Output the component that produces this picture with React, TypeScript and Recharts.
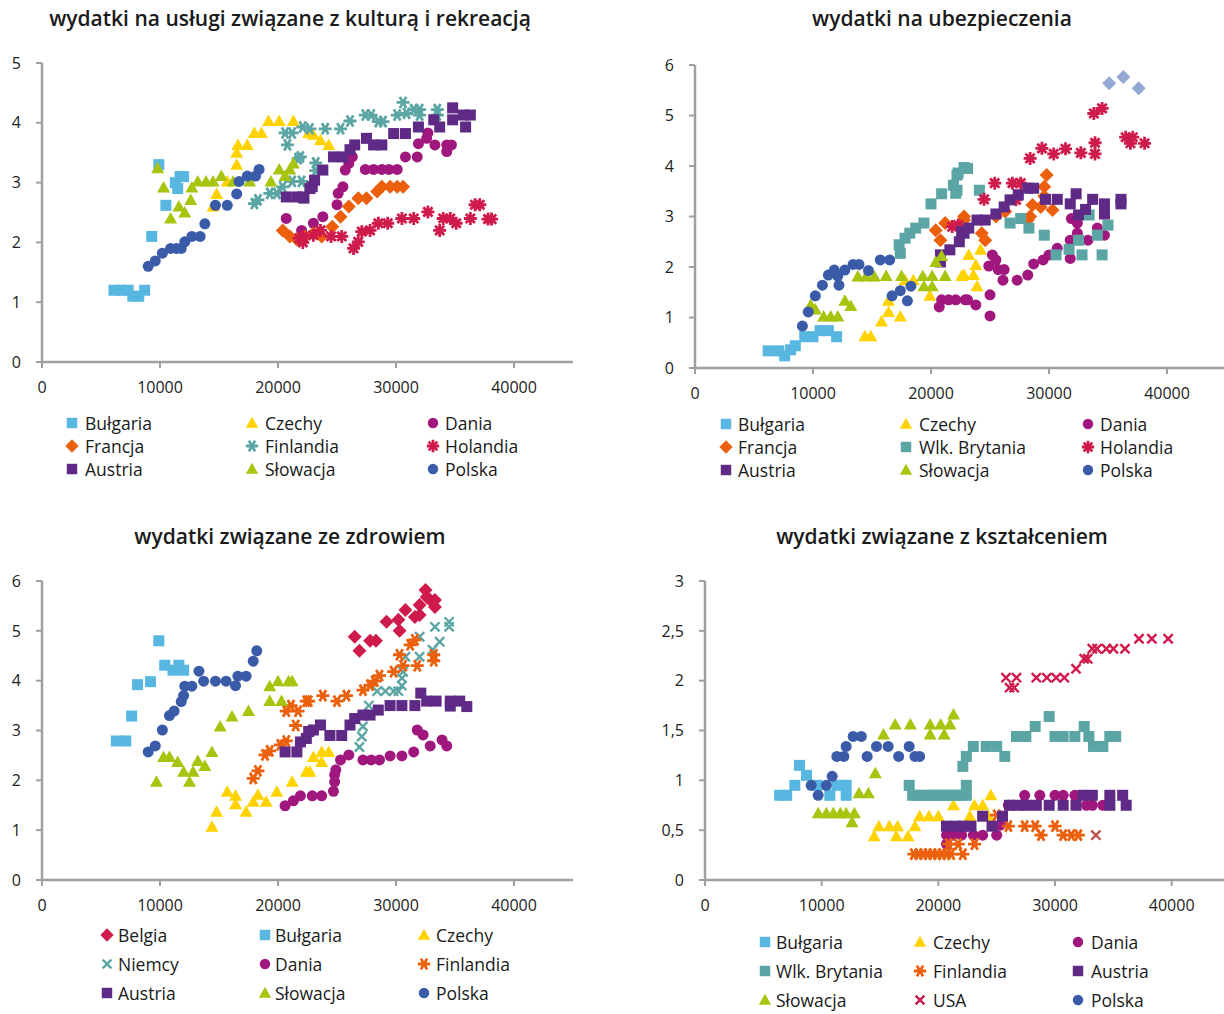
import { ScatterChart, Scatter, XAxis, YAxis } from 'recharts'

type Pt = [number, number]

// --- wydatki na usługi związane z kulturą i rekreacją ---
const kulBulgaria: Pt[] = [[6100, 1.2], [6700, 1.2], [7300, 1.2], [7700, 1.1], [8200, 1.1], [8700, 1.2], [9300, 2.1], [9900, 3.3], [10500, 2.62], [11300, 3.0], [11500, 2.9], [11700, 3.1], [12000, 3.1]]
const kulCzechy: Pt[] = [[14500, 2.6], [14800, 2.81], [15700, 3.02], [16500, 3.3], [16500, 3.5], [16600, 3.63], [17400, 3.63], [18000, 3.83], [18600, 3.83], [19200, 4.03], [20100, 4.03], [21300, 4.03], [22600, 3.83], [23000, 3.8], [23600, 3.71], [24300, 3.63]]
const kulDania: Pt[] = [[20700, 2.4], [22000, 2.2], [23000, 2.32], [23800, 2.43], [25000, 2.63], [25100, 2.82], [25500, 2.93], [25700, 3.21], [26000, 3.32], [26300, 3.43], [27400, 3.22], [28100, 3.22], [28800, 3.22], [29400, 3.22], [30100, 3.22], [30800, 3.43], [31800, 3.43], [31900, 3.65], [32600, 3.74], [32700, 3.83], [33300, 3.63], [34300, 3.63], [34300, 3.52], [34700, 3.63]]
const kulFrancja: Pt[] = [[20400, 2.2], [21000, 2.1], [21600, 2.05], [22300, 2.1], [23000, 2.15], [23700, 2.1], [24600, 2.26], [25300, 2.43], [26000, 2.6], [26800, 2.74], [27500, 2.74], [28400, 2.85], [28800, 2.93], [29500, 2.93], [30100, 2.93], [30600, 2.93]]
const kulFinlandia: Pt[] = [[18000, 2.65], [18300, 2.71], [19300, 2.82], [19900, 2.82], [20400, 2.93], [21200, 3.02], [22000, 3.02], [21700, 3.4], [20800, 3.63], [20600, 3.83], [21200, 3.83], [22100, 3.93], [22700, 3.9], [24000, 3.9], [25300, 3.9], [26100, 4.03], [27400, 4.13], [27900, 4.13], [28500, 4.02], [28900, 4.02], [30100, 4.13], [30600, 4.34], [30900, 4.16], [31500, 4.22], [32000, 4.22], [32000, 4.13], [33500, 4.22], [33500, 4.13], [21900, 3.43], [23200, 3.33], [23200, 3.2]]
const kulHolandia: Pt[] = [[21800, 2.07], [22100, 2.1], [22100, 2.0], [23000, 2.12], [23600, 2.2], [24500, 2.1], [25400, 2.1], [26400, 1.9], [26800, 2.01], [27100, 2.18], [27800, 2.2], [28500, 2.32], [29300, 2.32], [30500, 2.4], [31500, 2.4], [32700, 2.51], [33700, 2.2], [34000, 2.4], [34600, 2.4], [35100, 2.32], [36300, 2.4], [36700, 2.63], [37100, 2.63], [37800, 2.39], [38100, 2.39]]
const kulAustria: Pt[] = [[20700, 2.76], [21600, 2.76], [22100, 2.76], [22200, 2.74], [22700, 2.9], [22900, 2.93], [23100, 3.04], [23800, 3.21], [24700, 3.43], [25500, 3.43], [26100, 3.55], [26500, 3.63], [27500, 3.74], [28100, 3.63], [28800, 3.63], [29800, 3.82], [30800, 3.82], [31900, 3.93], [33200, 4.05], [33700, 3.93], [34800, 4.25], [34800, 4.05], [35700, 4.13], [36300, 4.13], [35900, 3.93]]
const kulSlowacja: Pt[] = [[9800, 3.24], [10300, 2.92], [10900, 2.4], [11600, 2.6], [12100, 2.5], [12600, 2.71], [12700, 2.92], [13200, 3.02], [13900, 3.02], [14500, 3.02], [15200, 3.11], [16200, 3.02], [17600, 3.02], [19400, 3.02], [20100, 3.22], [20600, 3.11], [21000, 3.22], [21300, 3.32]]
const kulPolska: Pt[] = [[9000, 1.6], [9600, 1.69], [10200, 1.82], [10900, 1.9], [11400, 1.9], [11800, 1.9], [12100, 2.01], [12700, 2.1], [13400, 2.1], [13800, 2.31], [14700, 2.62], [15700, 2.62], [16500, 2.81], [16700, 3.02], [17400, 3.11], [18100, 3.11], [18400, 3.22]]

// --- wydatki na ubezpieczenia ---
const ubeBulgaria: Pt[] = [[6200, 0.34], [7100, 0.34], [7600, 0.24], [8100, 0.36], [8500, 0.44], [9300, 0.62], [10000, 0.62], [10600, 0.74], [11300, 0.74], [12000, 0.62]]
const ubeCzechy: Pt[] = [[14400, 0.63], [14900, 0.63], [15800, 0.92], [16400, 1.11], [16400, 1.33], [17400, 1.02], [17800, 1.74], [18500, 1.74], [19900, 1.43], [22600, 1.82], [22800, 1.84], [23200, 2.24], [23600, 1.84], [23800, 2.04], [23900, 1.62], [24200, 2.34]]
const ubeDania: Pt[] = [[20700, 1.21], [20900, 1.35], [21500, 1.35], [22100, 1.35], [22900, 1.35], [23100, 1.35], [23800, 1.25], [24900, 2.02], [25000, 1.45], [25000, 1.03], [25200, 2.24], [25500, 2.14], [25700, 1.95], [26200, 1.95], [26100, 1.74], [27300, 1.74], [28200, 1.84], [28700, 2.06], [29500, 2.14], [30000, 2.24], [30700, 2.37], [31800, 2.17], [31800, 2.53], [31900, 2.96], [32400, 2.67], [32400, 2.87], [33300, 2.53], [34100, 2.77], [34700, 2.63]]
const ubeFrancja: Pt[] = [[20400, 2.73], [20800, 2.53], [21200, 2.87], [22800, 3.0], [22800, 2.93], [24300, 2.67], [24600, 2.53], [25500, 3.0], [26300, 3.1], [28200, 2.93], [28400, 3.0], [28600, 3.23], [29300, 3.19], [29600, 3.59], [29600, 3.4], [29800, 3.82], [30300, 3.13]]
const ubeBrytania: Pt[] = [[17300, 2.44], [17400, 2.27], [17800, 2.57], [18200, 2.67], [18700, 2.77], [19400, 2.87], [20000, 3.25], [20900, 3.45], [21900, 3.62], [22100, 3.46], [22200, 3.82], [22200, 3.52], [22300, 3.86], [22800, 3.97], [23100, 3.95], [24100, 3.52], [26700, 2.87], [27600, 2.96], [28300, 2.77], [29600, 2.63], [30600, 2.24], [31700, 2.35], [32500, 2.53], [32800, 2.24], [33400, 3.03], [34100, 2.63], [34500, 2.24], [35000, 2.83]]
const ubeHolandia: Pt[] = [[21800, 2.8], [22300, 2.83], [24500, 3.34], [25400, 3.66], [26900, 3.66], [27200, 3.33], [27600, 3.66], [28400, 4.15], [29400, 4.35], [30400, 4.24], [31400, 4.34], [32700, 4.26], [33800, 5.04], [33900, 4.46], [33900, 4.24], [34500, 5.14], [36500, 4.57], [36900, 4.45], [37100, 4.57], [38100, 4.45]]
const ubeAustria: Pt[] = [[20800, 2.24], [20800, 2.1], [21600, 2.34], [22400, 2.5], [22600, 2.7], [22800, 2.67], [23200, 2.77], [23900, 2.93], [24600, 2.93], [25500, 3.05], [26200, 3.19], [26700, 3.33], [27400, 3.43], [28200, 3.56], [28700, 3.56], [29700, 3.34], [30700, 3.34], [31800, 3.25], [32300, 3.45], [32500, 3.03], [33100, 3.14], [33700, 3.34], [34700, 3.25], [34700, 3.05], [36100, 3.34], [36100, 3.25]]
const ubeSlowacja: Pt[] = [[9800, 1.25], [10200, 1.16], [10900, 1.02], [11500, 1.02], [12100, 1.02], [12700, 1.33], [13200, 1.23], [13800, 1.81], [14500, 1.81], [15200, 1.81], [16200, 1.82], [17500, 1.82], [19300, 1.82], [19400, 1.62], [20100, 1.62], [20100, 1.82], [20400, 2.1], [20900, 2.22], [21200, 1.82]]
const ubePolska: Pt[] = [[9100, 0.83], [9600, 1.11], [10200, 1.43], [10800, 1.64], [11300, 1.84], [11800, 1.94], [12100, 1.82], [12200, 1.64], [12700, 1.94], [13400, 2.05], [13900, 2.05], [14700, 1.93], [15700, 2.14], [16500, 2.14], [16700, 1.43], [17400, 1.53], [18000, 1.33], [18300, 1.62]]
const ubeInne: Pt[] = [[35100, 5.64], [36300, 5.76], [37600, 5.54]]

// --- wydatki związane ze zdrowiem ---
const zdrBelgia: Pt[] = [[26500, 4.88], [26900, 4.6], [27800, 4.8], [28300, 4.8], [29200, 5.18], [30200, 5.22], [30300, 5.0], [30800, 5.42], [31600, 5.28], [32000, 5.32], [32000, 5.52], [32500, 5.82], [32600, 5.68], [32900, 5.62], [33300, 5.48], [33300, 5.62]]
const zdrBulgaria: Pt[] = [[6300, 2.79], [7100, 2.79], [7600, 3.29], [8100, 3.92], [9200, 3.98], [9900, 4.8], [10400, 4.31], [11100, 4.21], [11600, 4.31], [12000, 4.21]]
const zdrCzechy: Pt[] = [[14400, 1.07], [14800, 1.37], [15700, 1.77], [16400, 1.69], [16400, 1.52], [17300, 1.37], [17900, 1.57], [18300, 1.71], [19000, 1.57], [19900, 1.77], [21200, 1.97], [22400, 2.17], [22700, 2.17], [23000, 2.47], [23700, 2.57], [23700, 2.37], [24300, 2.57]]
const zdrNiemcy: Pt[] = [[26900, 2.67], [27100, 2.88], [27200, 3.08], [27700, 3.5], [28400, 3.79], [29100, 3.79], [29800, 3.79], [30200, 3.79], [30500, 3.9], [30500, 4.05], [30600, 4.18], [30800, 4.48], [32000, 4.88], [32000, 4.48], [33100, 4.62], [33300, 5.08], [33700, 4.78], [34500, 5.08], [34500, 5.18]]
const zdrDania: Pt[] = [[20600, 1.49], [21300, 1.59], [21900, 1.69], [22900, 1.69], [23700, 1.69], [24700, 1.78], [24800, 1.97], [24800, 2.11], [24900, 2.21], [25300, 2.41], [26000, 2.51], [27200, 2.41], [27900, 2.41], [28600, 2.41], [29500, 2.49], [30500, 2.49], [31500, 2.57], [31800, 3.01], [32300, 2.91], [32900, 2.69], [33900, 2.81], [34300, 2.69]]
const zdrFinlandia: Pt[] = [[17900, 2.04], [18300, 2.19], [18900, 2.51], [19300, 2.59], [20200, 2.71], [20700, 2.79], [21500, 3.1], [20700, 3.39], [21100, 3.5], [21700, 3.39], [22400, 3.59], [22600, 3.59], [23800, 3.7], [25000, 3.59], [25800, 3.7], [27200, 3.81], [27800, 3.91], [28200, 3.99], [28600, 4.1], [29800, 4.18], [30300, 4.52], [30600, 4.3], [31200, 4.72], [31600, 4.82], [31800, 4.3], [33200, 4.52], [33200, 4.4]]
const zdrAustria: Pt[] = [[20600, 2.57], [21600, 2.57], [21900, 2.77], [22400, 2.84], [22600, 2.98], [23000, 3.01], [23600, 3.11], [24400, 2.9], [25400, 2.9], [26100, 3.11], [26500, 3.24], [27200, 3.31], [27800, 3.31], [28500, 3.41], [29500, 3.5], [30500, 3.5], [31600, 3.5], [32100, 3.75], [32600, 3.59], [33400, 3.59], [34600, 3.59], [34600, 3.49], [35400, 3.59], [36000, 3.48]]
const zdrSlowacja: Pt[] = [[9700, 1.97], [10300, 2.47], [10800, 2.47], [11500, 2.37], [12000, 2.17], [12500, 1.97], [12800, 2.17], [13200, 2.39], [13800, 2.29], [14400, 2.57], [15100, 3.08], [16100, 3.28], [17500, 3.39], [19300, 3.59], [19300, 3.89], [20000, 3.99], [20300, 3.59], [20900, 3.99], [21200, 3.99]]
const zdrPolska: Pt[] = [[9000, 2.57], [9600, 2.69], [10200, 3.01], [10800, 3.3], [11200, 3.39], [11800, 3.58], [12000, 3.7], [12100, 3.89], [12700, 3.89], [13300, 4.19], [13700, 3.99], [14700, 3.99], [15600, 3.99], [16400, 3.9], [16600, 4.09], [17300, 4.09], [17900, 4.39], [18200, 4.6]]

// --- wydatki związane z kształceniem ---
const ksztBulgaria: Pt[] = [[6400, 0.85], [7000, 0.85], [7700, 0.95], [8100, 1.15], [8700, 1.05], [9600, 0.95], [10700, 0.85], [11300, 0.95], [12100, 0.95], [12100, 0.85]]
const ksztCzechy: Pt[] = [[14500, 0.44], [14900, 0.54], [15800, 0.54], [16400, 0.44], [16500, 0.54], [17400, 0.44], [18000, 0.54], [18400, 0.64], [19200, 0.64], [20000, 0.64], [21300, 0.75], [22700, 0.64], [23100, 0.75], [23800, 0.75], [24300, 0.64], [24500, 0.85]]
const ksztDania: Pt[] = [[20700, 0.45], [20700, 0.36], [21300, 0.45], [22000, 0.45], [23000, 0.45], [23800, 0.45], [25000, 0.45], [25300, 0.55], [26000, 0.75], [27400, 0.85], [28700, 0.85], [30000, 0.85], [30700, 0.85], [31700, 0.85], [32700, 0.75], [33200, 0.75], [34100, 0.75]]
const ksztBrytania: Pt[] = [[17500, 0.95], [17800, 0.85], [18200, 0.85], [18700, 0.85], [19200, 0.85], [19600, 0.85], [20100, 0.85], [20500, 0.85], [21000, 0.85], [21400, 0.85], [21800, 0.85], [22400, 0.85], [22400, 0.95], [22100, 1.14], [22400, 1.24], [23000, 1.34], [24100, 1.34], [25000, 1.34], [25700, 1.24], [26700, 1.44], [27500, 1.44], [28300, 1.54], [29500, 1.64], [30000, 1.44], [30700, 1.44], [31700, 1.44], [32500, 1.54], [32900, 1.44], [33300, 1.34], [34100, 1.34], [34700, 1.44], [35200, 1.44]]
const ksztFinlandia: Pt[] = [[17900, 0.26], [18300, 0.26], [18700, 0.26], [19100, 0.26], [19500, 0.26], [19900, 0.26], [20300, 0.26], [20700, 0.26], [20900, 0.36], [21100, 0.26], [21700, 0.36], [22100, 0.26], [23100, 0.36], [25000, 0.65], [26000, 0.54], [27400, 0.54], [28300, 0.54], [28800, 0.45], [30000, 0.54], [30700, 0.45], [31400, 0.45], [32000, 0.45]]
const ksztAustria: Pt[] = [[20700, 0.54], [21500, 0.54], [22100, 0.54], [22800, 0.54], [23800, 0.64], [24600, 0.54], [25500, 0.64], [26100, 0.75], [26800, 0.75], [27500, 0.75], [28400, 0.75], [29500, 0.75], [30700, 0.75], [31800, 0.75], [32400, 0.85], [33200, 0.85], [34700, 0.85], [34700, 0.75], [35800, 0.85], [36100, 0.75]]
const ksztSlowacja: Pt[] = [[9700, 0.67], [10400, 0.67], [11000, 0.67], [11600, 0.67], [12100, 0.67], [12600, 0.58], [12800, 0.67], [13200, 0.87], [14000, 0.87], [14600, 1.07], [15300, 1.46], [16300, 1.56], [17600, 1.56], [19300, 1.56], [19300, 1.46], [20200, 1.56], [20500, 1.46], [21000, 1.56], [21300, 1.66]]
const ksztUSA: Pt[] = [[25800, 2.03], [26100, 1.93], [26500, 1.93], [26700, 2.03], [28400, 2.03], [29300, 2.03], [30100, 2.03], [30800, 2.03], [31800, 2.12], [32500, 2.22], [32800, 2.22], [33200, 2.32], [33600, 2.32], [34400, 2.32], [35000, 2.32], [36000, 2.32], [37200, 2.42], [38300, 2.42], [39700, 2.42]]
const ksztPolska: Pt[] = [[9100, 0.95], [9700, 0.85], [10400, 0.95], [10900, 1.04], [11300, 1.24], [11900, 1.24], [12100, 1.34], [12700, 1.44], [13400, 1.44], [13900, 1.24], [14700, 1.34], [15700, 1.34], [16600, 1.24], [17500, 1.34], [18000, 1.24], [18400, 1.24]]
const ksztInne: Pt[] = [[33500, 0.45]]

const xTicks = [0, 10000, 20000, 30000, 40000]
const yTicks6 = [0, 1, 2, 3, 4, 5, 6]
const yTicks5 = [0, 1, 2, 3, 4, 5]
const yTicks3 = [0, 0.5, 1, 1.5, 2, 2.5, 3]

const C = {
  bulgaria: '#58b7e1',
  czechy: '#ffd200',
  dania: '#a0177d',
  francja: '#ec600d',
  teal: '#5ba6a5',
  crimson: '#cf1b4c',
  austria: '#5f2a85',
  slowacja: '#a8c40f',
  polska: '#3a5ba8',
  inne: '#93a9d3',
  brown: '#c0504d',
}

type Kind = 'square' | 'circle' | 'triangle' | 'diamond' | 'star6' | 'star8' | 'x'
type Series = { name: string; data: Pt[]; kind: Kind; color: string; legend?: boolean }

function Marker({ kind, color, cx, cy, s = 1 }: { kind: Kind; color: string; cx: number; cy: number; s?: number }) {
  if (kind === 'square') return <rect x={cx - 5.5 * s} y={cy - 5.5 * s} width={11 * s} height={11 * s} fill={color} />
  if (kind === 'circle') return <circle cx={cx} cy={cy} r={5.5 * s} fill={color} />
  if (kind === 'triangle')
    return <polygon points={`${cx},${cy - 6.5 * s} ${cx + 6.5 * s},${cy + 5 * s} ${cx - 6.5 * s},${cy + 5 * s}`} fill={color} />
  if (kind === 'diamond')
    return <polygon points={`${cx},${cy - 7 * s} ${cx + 7 * s},${cy} ${cx},${cy + 7 * s} ${cx - 7 * s},${cy}`} fill={color} />
  const r = 6.5 * s
  let angles: number[] = []
  if (kind === 'star6') angles = [0, 60, 120]
  if (kind === 'star8') angles = [0, 45, 90, 135]
  if (kind === 'x') angles = [45, 135]
  const d = angles
    .map((a) => {
      const dx = Math.cos((a * Math.PI) / 180) * r
      const dy = Math.sin((a * Math.PI) / 180) * r
      return `M${cx - dx},${cy - dy}L${cx + dx},${cy + dy}`
    })
    .join('')
  return <path d={d} stroke={color} strokeWidth={kind === 'x' ? 2.4 : 2.8} fill="none" />
}

const kulSeries: Series[] = [
  { name: 'Bułgaria', data: kulBulgaria, kind: 'square', color: C.bulgaria },
  { name: 'Czechy', data: kulCzechy, kind: 'triangle', color: C.czechy },
  { name: 'Dania', data: kulDania, kind: 'circle', color: C.dania },
  { name: 'Francja', data: kulFrancja, kind: 'diamond', color: C.francja },
  { name: 'Finlandia', data: kulFinlandia, kind: 'star6', color: C.teal },
  { name: 'Holandia', data: kulHolandia, kind: 'star8', color: C.crimson },
  { name: 'Austria', data: kulAustria, kind: 'square', color: C.austria },
  { name: 'Słowacja', data: kulSlowacja, kind: 'triangle', color: C.slowacja },
  { name: 'Polska', data: kulPolska, kind: 'circle', color: C.polska },
]

const ubeSeries: Series[] = [
  { name: 'Bułgaria', data: ubeBulgaria, kind: 'square', color: C.bulgaria },
  { name: 'Czechy', data: ubeCzechy, kind: 'triangle', color: C.czechy },
  { name: 'Dania', data: ubeDania, kind: 'circle', color: C.dania },
  { name: 'Francja', data: ubeFrancja, kind: 'diamond', color: C.francja },
  { name: 'Wlk. Brytania', data: ubeBrytania, kind: 'square', color: C.teal },
  { name: 'Holandia', data: ubeHolandia, kind: 'star8', color: C.crimson },
  { name: 'Austria', data: ubeAustria, kind: 'square', color: C.austria },
  { name: 'Słowacja', data: ubeSlowacja, kind: 'triangle', color: C.slowacja },
  { name: 'Polska', data: ubePolska, kind: 'circle', color: C.polska },
  { name: 'inne', data: ubeInne, kind: 'diamond', color: C.inne, legend: false },
]

const zdrSeries: Series[] = [
  { name: 'Belgia', data: zdrBelgia, kind: 'diamond', color: C.crimson },
  { name: 'Bułgaria', data: zdrBulgaria, kind: 'square', color: C.bulgaria },
  { name: 'Czechy', data: zdrCzechy, kind: 'triangle', color: C.czechy },
  { name: 'Niemcy', data: zdrNiemcy, kind: 'x', color: C.teal },
  { name: 'Dania', data: zdrDania, kind: 'circle', color: C.dania },
  { name: 'Finlandia', data: zdrFinlandia, kind: 'star6', color: C.francja },
  { name: 'Austria', data: zdrAustria, kind: 'square', color: C.austria },
  { name: 'Słowacja', data: zdrSlowacja, kind: 'triangle', color: C.slowacja },
  { name: 'Polska', data: zdrPolska, kind: 'circle', color: C.polska },
]

const ksztSeries: Series[] = [
  { name: 'Bułgaria', data: ksztBulgaria, kind: 'square', color: C.bulgaria },
  { name: 'Czechy', data: ksztCzechy, kind: 'triangle', color: C.czechy },
  { name: 'Dania', data: ksztDania, kind: 'circle', color: C.dania },
  { name: 'Wlk. Brytania', data: ksztBrytania, kind: 'square', color: C.teal },
  { name: 'Finlandia', data: ksztFinlandia, kind: 'star6', color: C.francja },
  { name: 'Austria', data: ksztAustria, kind: 'square', color: C.austria },
  { name: 'Słowacja', data: ksztSlowacja, kind: 'triangle', color: C.slowacja },
  { name: 'USA', data: ksztUSA, kind: 'x', color: C.crimson },
  { name: 'Polska', data: ksztPolska, kind: 'circle', color: C.polska },
  { name: 'inne', data: ksztInne, kind: 'x', color: C.brown, legend: false },
]

const FONT = '"Open Sans", "Noto Sans", sans-serif'
const AXIS = '#a0a0a0'

interface PanelProps {
  title: string
  titleX: number
  titleY: number
  box: { l: number; t: number; r: number; b: number }
  yMax: number
  yTicks: number[]
  series: Series[]
  rows: number[]
  markerX: number[]
  textX: number[]
  comma?: boolean
}

function Panel({ title, titleX, titleY, box, yMax, yTicks, series, rows, markerX, textX, comma }: PanelProps) {
  const yW = 60
  const xH = 40
  const left = box.l - yW
  const top = box.t - 10
  const width = box.r - box.l + yW + 10
  const height = box.b - box.t + 10 + xH
  const legendItems = series.filter((s) => s.legend !== false)
  return (
    <>
      <div
        style={{
          position: 'absolute',
          left: titleX - 300,
          top: titleY - 15,
          width: 600,
          textAlign: 'center',
          fontSize: 21,
          fontWeight: 600,
          lineHeight: '30px',
          color: '#1a1a1a',
        }}
      >
        {title}
      </div>
      <div style={{ position: 'absolute', left, top }}>
        <ScatterChart width={width} height={height} margin={{ top: 10, right: 10, bottom: 0, left: 0 }}>
          <XAxis
            type="number"
            dataKey="x"
            domain={[0, 45000]}
            ticks={xTicks}
            allowDataOverflow
            height={xH}
            axisLine={{ stroke: AXIS, strokeWidth: 2.5 }}
            tickLine={{ stroke: AXIS, strokeWidth: 2 }}
            tickSize={6}
            tickMargin={14}
            tick={{ fontSize: 16, fill: '#222', fontFamily: FONT }}
          />
          <YAxis
            type="number"
            dataKey="y"
            domain={[0, yMax]}
            ticks={yTicks}
            allowDataOverflow
            width={yW}
            axisLine={{ stroke: AXIS, strokeWidth: 2.5 }}
            tickLine={{ stroke: AXIS, strokeWidth: 2 }}
            tickSize={6}
            tickMargin={15}
            tick={{ fontSize: 16, fill: '#222', fontFamily: FONT }}
            tickFormatter={(v: number) => (comma ? String(v).replace('.', ',') : String(v))}
          />
          {series.map((s) => (
            <Scatter
              key={s.name}
              name={s.name}
              data={s.data.map(([x, y]) => ({ x, y }))}
              isAnimationActive={false}
              shape={(p: any) => <Marker kind={s.kind} color={s.color} cx={p.cx} cy={p.cy} />}
            />
          ))}
        </ScatterChart>
      </div>
      {legendItems.map((s, i) => {
        const r = Math.floor(i / 3)
        const c = i % 3
        return (
          <div key={s.name}>
            <svg
              style={{ position: 'absolute', left: markerX[c] - 8, top: rows[r] - 8 }}
              width={16}
              height={16}
            >
              <Marker kind={s.kind} color={s.color} cx={8} cy={8} s={0.95} />
            </svg>
            <div
              style={{
                position: 'absolute',
                left: textX[c],
                top: rows[r] - 12,
                fontSize: 17.5,
                lineHeight: '24px',
                color: '#1a1a1a',
                whiteSpace: 'nowrap',
              }}
            >
              {s.name}
            </div>
          </div>
        )
      })}
    </>
  )
}

export default function App() {
  return (
    <div
      style={{
        position: 'absolute',
        left: 0,
        top: 0,
        width: 1224,
        height: 1014,
        overflow: 'hidden',
        background: '#fff',
        fontFamily: FONT,
      }}
    >
      <Panel
        title="wydatki na usługi związane z kulturą i rekreacją"
        titleX={290}
        titleY={18}
        box={{ l: 42, t: 63, r: 573, b: 362 }}
        yMax={5}
        yTicks={yTicks5}
        series={kulSeries}
        rows={[423, 446, 469]}
        markerX={[72, 252, 433]}
        textX={[85, 265, 445]}
      />
      <Panel
        title="wydatki na ubezpieczenia"
        titleX={942}
        titleY={18}
        box={{ l: 695, t: 65, r: 1226, b: 368 }}
        yMax={6}
        yTicks={yTicks6}
        series={ubeSeries}
        rows={[424, 447, 470]}
        markerX={[726, 906, 1088]}
        textX={[738, 919, 1100]}
      />
      <Panel
        title="wydatki związane ze zdrowiem"
        titleX={290}
        titleY={536}
        box={{ l: 42, t: 581, r: 573, b: 880 }}
        yMax={6}
        yTicks={yTicks6}
        series={zdrSeries}
        rows={[935, 964, 993]}
        markerX={[107, 265, 424]}
        textX={[118, 275, 436]}
      />
      <Panel
        title="wydatki związane z kształceniem"
        titleX={942}
        titleY={536}
        box={{ l: 705, t: 581, r: 1230, b: 880 }}
        yMax={3}
        yTicks={yTicks3}
        series={ksztSeries}
        rows={[942, 971, 1000]}
        markerX={[765, 920, 1078]}
        textX={[776, 933, 1091]}
        comma
      />
    </div>
  )
}
